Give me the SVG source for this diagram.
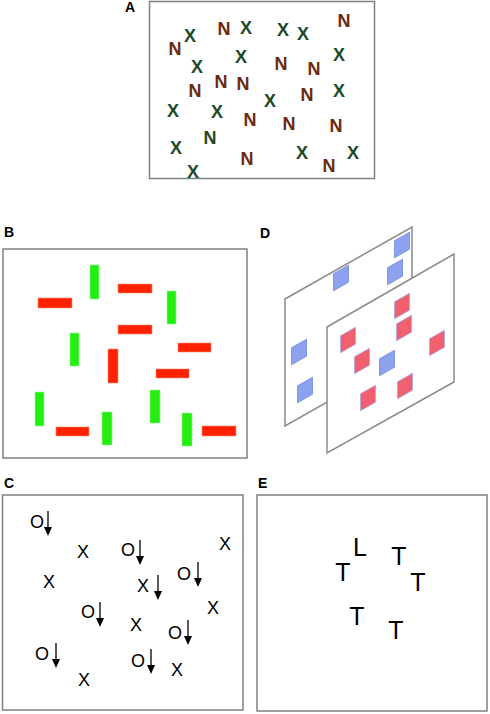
<svg xmlns="http://www.w3.org/2000/svg" xmlns:xlink="http://www.w3.org/1999/xlink" width="490" height="714" viewBox="0 0 490 714">
<style>
.frame{fill:#fff;stroke:#808080;stroke-width:1.5}
.lbl{font-family:"Liberation Sans",Arial,sans-serif;font-weight:bold;font-size:14px;fill:#000}
.n{font-family:"Liberation Sans",Arial,sans-serif;font-weight:bold;font-size:18px;fill:#6b2a0f;text-anchor:middle}
.x{font-family:"Liberation Sans",Arial,sans-serif;font-weight:bold;font-size:18px;fill:#1c4a28;text-anchor:middle}
.c{font-family:"Liberation Sans",Arial,sans-serif;font-size:18px;fill:#000;text-anchor:middle}
.e{font-family:"Liberation Sans",Arial,sans-serif;font-size:25px;fill:#000;text-anchor:middle}
.red{fill:#ff2200;stroke:#ff8a70;stroke-width:0.6}
.grn{fill:#22ee11;stroke:#9aff8a;stroke-width:0.6}
.plane{fill:#fff;stroke:#8a8a8a;stroke-width:1.5}
.bsq{fill:#8ca2ee;stroke:#6f8ae0;stroke-width:0.8}
.rsq{fill:#f0606e;stroke:#a8a8e8;stroke-width:0.8}
</style>
<defs>
<polygon id="sq" points="-7.5,-4.2 7.5,-12.8 7.5,4.2 -7.5,12.8"/>
<g id="arr"><line x1="0" y1="0" x2="0" y2="17" stroke="#000" stroke-width="1.3"/><polygon points="-4,16 4,16 0,25" fill="#000"/></g>
</defs>

<!-- Panel A -->
<g id="panelA">
<text class="lbl" x="125" y="12">A</text>
<rect class="frame" x="149.5" y="1.5" width="225" height="177"/>
<text class="n" x="175" y="54.5">N</text>
<text class="x" x="190" y="41.5">X</text>
<text class="n" x="224" y="34.5">N</text>
<text class="x" x="246" y="33.5">X</text>
<text class="x" x="283" y="35.5">X</text>
<text class="x" x="303" y="39.5">X</text>
<text class="n" x="344" y="26.5">N</text>
<text class="x" x="241" y="62.5">X</text>
<text class="x" x="197" y="72.5">X</text>
<text class="n" x="281" y="69.5">N</text>
<text class="n" x="314" y="74.5">N</text>
<text class="x" x="339" y="60.5">X</text>
<text class="n" x="221" y="87.5">N</text>
<text class="n" x="243" y="89.5">N</text>
<text class="n" x="195" y="96.5">N</text>
<text class="n" x="307" y="100.5">N</text>
<text class="x" x="339" y="96.5">X</text>
<text class="x" x="270" y="106.5">X</text>
<text class="x" x="173" y="116.5">X</text>
<text class="x" x="217" y="117.5">X</text>
<text class="n" x="250" y="125.5">N</text>
<text class="n" x="289" y="129.5">N</text>
<text class="n" x="336" y="131.5">N</text>
<text class="x" x="210" y="143.5">N</text>
<text class="x" x="176" y="153.5">X</text>
<text class="x" x="302" y="158.5">X</text>
<text class="x" x="353" y="158.5">X</text>
<text class="n" x="247" y="164.5">N</text>
<text class="n" x="329" y="171.5">N</text>
<text class="x" x="193" y="177.5">X</text>
</g>

<!-- Panel B -->
<g id="panelB">
<text class="lbl" x="4" y="237">B</text>
<rect class="frame" x="3" y="249" width="244" height="209"/>
<rect class="red" x="38" y="298" width="34" height="10"/>
<rect class="red" x="118" y="284" width="34" height="9"/>
<rect class="red" x="118" y="325" width="34" height="9"/>
<rect class="red" x="178" y="343" width="33" height="9"/>
<rect class="red" x="156" y="369" width="33" height="9"/>
<rect class="red" x="56" y="427" width="33" height="9"/>
<rect class="red" x="202" y="426" width="34" height="10"/>
<rect class="red" x="108" y="349" width="10" height="34"/>
<rect class="grn" x="90" y="265" width="9" height="34"/>
<rect class="grn" x="167" y="291" width="9" height="33"/>
<rect class="grn" x="70" y="333" width="9" height="33"/>
<rect class="grn" x="35" y="392" width="9" height="34"/>
<rect class="grn" x="102" y="412" width="10" height="33"/>
<rect class="grn" x="150" y="390" width="10" height="33"/>
<rect class="grn" x="182" y="413" width="10" height="33"/>
</g>

<!-- Panel D -->
<g id="panelD">
<text class="lbl" x="260" y="238">D</text>
<g id="backPlane">
<polygon class="plane" points="285,299 412,227 412,354 285,426"/>
<use href="#sq" xlink:href="#sq" class="bsq" x="402" y="245"/>
<use href="#sq" xlink:href="#sq" class="bsq" x="341" y="278"/>
<use href="#sq" xlink:href="#sq" class="bsq" x="395" y="272"/>
<use href="#sq" xlink:href="#sq" class="bsq" x="299" y="352"/>
<use href="#sq" xlink:href="#sq" class="bsq" x="305" y="390"/>
</g>
<g id="frontPlane">
<polygon class="plane" points="327,327 454,254 454,382 327,453"/>
<use href="#sq" xlink:href="#sq" class="rsq" x="402" y="306"/>
<use href="#sq" xlink:href="#sq" class="rsq" x="404" y="328"/>
<use href="#sq" xlink:href="#sq" class="rsq" x="348" y="340"/>
<use href="#sq" xlink:href="#sq" class="rsq" x="362" y="361"/>
<use href="#sq" xlink:href="#sq" class="rsq" x="437" y="343"/>
<use href="#sq" xlink:href="#sq" class="rsq" x="405" y="386"/>
<use href="#sq" xlink:href="#sq" class="rsq" x="368" y="398"/>
<use href="#sq" xlink:href="#sq" class="bsq" x="387" y="363"/>
</g>
</g>

<!-- Panel C -->
<g id="panelC">
<text class="lbl" x="4" y="488">C</text>
<rect class="frame" x="2.5" y="495" width="240.5" height="215"/>
<text class="c" x="37" y="527.5">O</text>
<text class="c" x="83" y="557.5">X</text>
<text class="c" x="128" y="555.5">O</text>
<text class="c" x="225" y="549.5">X</text>
<text class="c" x="49" y="587.5">X</text>
<text class="c" x="184" y="579.5">O</text>
<text class="c" x="143" y="591.5">X</text>
<text class="c" x="213" y="613.5">X</text>
<text class="c" x="88" y="617.5">O</text>
<text class="c" x="136" y="630.5">X</text>
<text class="c" x="175" y="638.5">O</text>
<text class="c" x="42" y="659.5">O</text>
<text class="c" x="138" y="666.5">O</text>
<text class="c" x="177" y="675.5">X</text>
<text class="c" x="84" y="685.5">X</text>
<g id="arrows">
<use href="#arr" xlink:href="#arr" x="48" y="511"/>
<use href="#arr" xlink:href="#arr" x="140" y="540"/>
<use href="#arr" xlink:href="#arr" x="198" y="562"/>
<use href="#arr" xlink:href="#arr" x="158" y="575"/>
<use href="#arr" xlink:href="#arr" x="100" y="602"/>
<use href="#arr" xlink:href="#arr" x="188" y="620"/>
<use href="#arr" xlink:href="#arr" x="56" y="643"/>
<use href="#arr" xlink:href="#arr" x="151" y="649"/>
</g>
</g>

<!-- Panel E -->
<g id="panelE">
<text class="lbl" x="258" y="488">E</text>
<rect class="frame" x="257" y="495" width="230" height="216"/>
<text class="e" x="360" y="556">L</text>
<text class="e" x="399" y="565">T</text>
<text class="e" x="343" y="581">T</text>
<text class="e" x="418" y="591">T</text>
<text class="e" x="357" y="625">T</text>
<text class="e" x="396" y="639">T</text>
</g>
</svg>
